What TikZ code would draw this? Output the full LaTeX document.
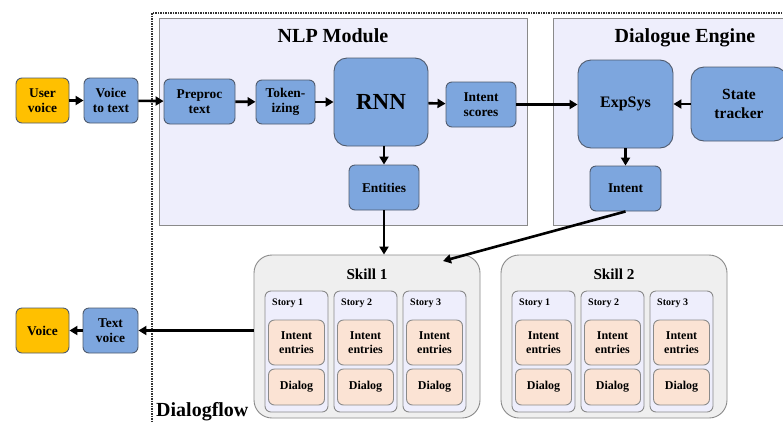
\documentclass[tikz,border=0pt]{standalone}
\usepackage{fontspec}
\setmainfont{Liberation Serif}
\usetikzlibrary{arrows.meta}
\definecolor{cOrange}{HTML}{FFC000}
\definecolor{cBlue}{HTML}{7DA6DE}
\definecolor{cBorder}{HTML}{4F5B6E}
\definecolor{cLav}{HTML}{EEEEFC}
\definecolor{cGrayFill}{HTML}{EFEFEF}
\definecolor{cPeach}{HTML}{FBE3D4}
\definecolor{cFrame}{HTML}{8A8A8A}
\begin{document}
\begin{tikzpicture}[x=1pt,y=-1pt,
  base/.style={draw=cBorder, line width=0.9pt, rounded corners=6pt, inner sep=0pt, align=center, font=\bfseries\fontsize{13.4}{15.5}\selectfont},
  orangebox/.style={base, fill=cOrange},
  bluebox/.style={base, fill=cBlue},
  bigbox/.style={bluebox, rounded corners=13pt},
  container/.style={draw=cFrame, fill=cLav, line width=0.9pt, inner sep=0pt},
  skillbox/.style={draw=cFrame, fill=cGrayFill, line width=0.9pt, rounded corners=18pt, inner sep=0pt},
  storybox/.style={draw=cFrame, fill=cLav, line width=0.9pt, rounded corners=6pt, inner sep=0pt},
  storylabel/.style={inner sep=0pt, font=\bfseries\fontsize{10}{12}\selectfont},
  peachbox/.style={draw=cFrame, fill=cPeach, line width=0.9pt, rounded corners=6pt, inner sep=0pt, align=center, font=\bfseries\fontsize{12}{14}\selectfont},
  arr/.style={line width=2.6pt, -{Triangle[length=8pt,width=9pt]}},
  title/.style={font=\bfseries\fontsize{20}{24}\selectfont, inner sep=0pt},
  skilltitle/.style={font=\bfseries\fontsize{15.2}{18}\selectfont, inner sep=0pt}
]
\clip (0,0) rectangle (783,421);
\fill[white] (0,0) rectangle (783,421);
% dotted frame
\draw[densely dotted, line width=1.5pt, black!80] (152,13) rectangle (830,470);
% containers
\node[container, minimum width=368, minimum height=207] (nlp) at (343,121.5) {};
\node[title] (nlpt) at (333,36) {NLP Module};
\node[container, minimum width=250, minimum height=207] (de) at (678,121.5) {};
\node[title] (det) at (685,38) {Dialogue Engine};
% nodes
\node[orangebox, minimum width=53, minimum height=45] (uv) at (42.5,100.5) {User\\voice};
\node[bluebox, minimum width=54, minimum height=45] (v2t) at (111,100.5) {Voice\\to text};
\node[bluebox, minimum width=71, minimum height=45] (pre) at (199.5,101.5) {Preproc\\text};
\node[bluebox, minimum width=59, minimum height=44] (tok) at (285.5,102) {Token-\\izing};
\node[bigbox, minimum width=94, minimum height=88, font=\bfseries\fontsize{23}{26}\selectfont] (rnn) at (381,102) {RNN};
\node[bluebox, minimum width=70, minimum height=45] (isc) at (481,104.5) {Intent\\scores};
\node[bluebox, minimum width=70, minimum height=45] (ent) at (384,187.5) {Entities};
\node[bigbox, minimum width=95, minimum height=88, font=\bfseries\fontsize{16}{19}\selectfont] (exp) at (625.5,104) {ExpSys};
\node[bigbox, minimum width=96, minimum height=74, font=\bfseries\fontsize{15.5}{19}\selectfont] (st) at (739,104) {State\\tracker};
\node[bluebox, minimum width=71, minimum height=45] (int) at (625.5,188.5) {Intent};
\node[orangebox, minimum width=53, minimum height=45] (voice) at (42.5,330.5) {Voice};
\node[bluebox, minimum width=55, minimum height=45] (tv) at (110.5,330.5) {Text\\voice};
% skills
\foreach \sk/\sx in {1/254, 2/501} {
  \node[skillbox, minimum width=226, minimum height=163] (skill\sk) at (\sx+113,336.5) {};
  \node[skilltitle] (skill\sk-t) at (\sx+113,274) {Skill \sk};
  \foreach \st/\off in {1/11, 2/80, 3/149} {
    \node[storybox, minimum width=63, minimum height=121] (sk\sk-st\st) at (\sx+\off+31.5,351.5) {};
    \node[storylabel, anchor=west] (sk\sk-st\st-l) at (\sx+\off+7,303) {Story \st};
    \node[peachbox, minimum width=56, minimum height=45] (sk\sk-ie\st) at (\sx+\off+31.5,342.5) {Intent\\entries};
    \node[peachbox, minimum width=56, minimum height=36] (sk\sk-dl\st) at (\sx+\off+31.5,387) {Dialog};
  }
}
\node[title, anchor=base west] (df) at (156,416) {Dialogflow};
% arrows
\coordinate (sk1in) at (443,261);
\draw[arr] (uv) -- (v2t);
\draw[arr] (v2t) -- (pre);
\draw[arr] (pre) -- (tok);
\draw[arr] (tok) -- (rnn);
\draw[arr] (rnn) -- (isc);
\draw[arr] (isc.east) -- (isc.east -| exp.west);
\draw[arr] (st) -- (exp);
\draw[arr] (exp) -- (int);
\draw[arr] (rnn.south -| ent.north) -- (ent.north);
\draw[arr] (ent.south) -- (ent.south |- skill1.north);
\draw[arr] (int.south) -- (sk1in);
\draw[arr] (skill1.west |- tv.east) -- (tv.east);
\draw[arr] (tv) -- (voice);
\end{tikzpicture}
\end{document}
